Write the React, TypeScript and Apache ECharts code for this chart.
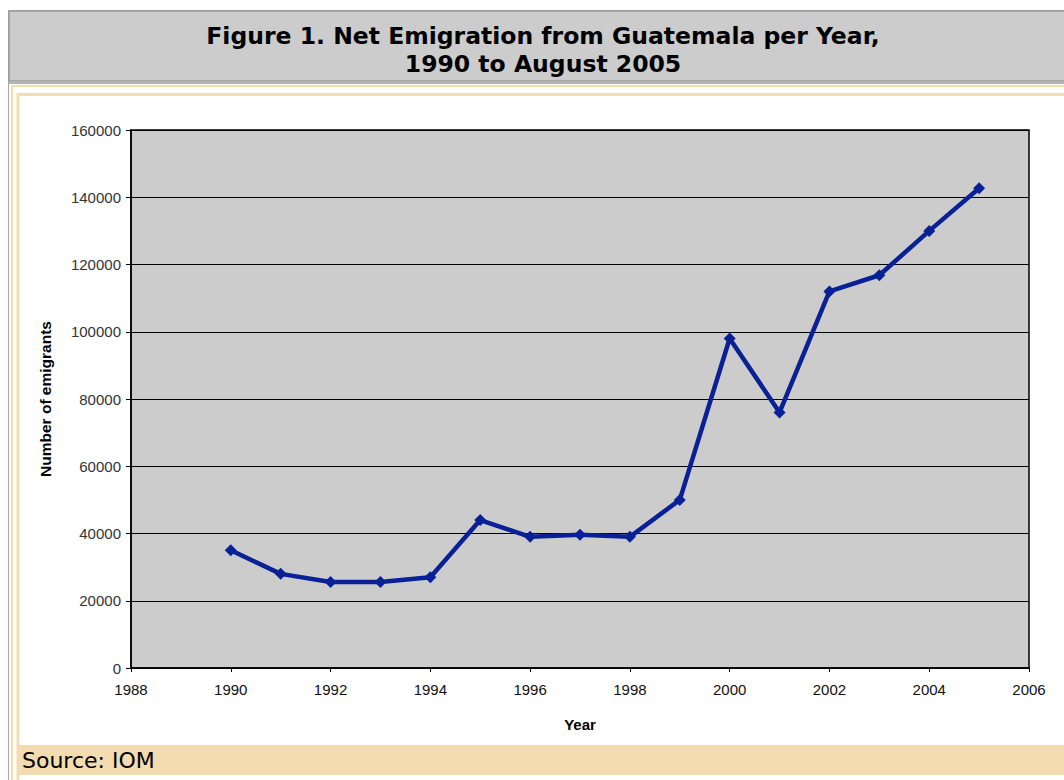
import React, { useEffect, useRef } from "react";
import * as echarts from "echarts";

const years = [1990, 1991, 1992, 1993, 1994, 1995, 1996, 1997, 1998, 1999, 2000, 2001, 2002, 2003, 2004, 2005];
const emigrants = [35000, 28000, 25600, 25600, 27000, 44000, 39000, 39600, 39000, 50000, 98000, 76000, 112000, 116800, 130000, 142700];
const titleLines = ["Figure 1. Net Emigration from Guatemala per Year,", "1990 to August 2005"];
const sourceText = "Source: IOM";
const xAxisName = "Year";
const yAxisName = "Number of emigrants";

export default function App() {
  const ref = useRef<HTMLDivElement>(null);
  useEffect(() => {
    if (!ref.current) return;
    const chart = echarts.init(ref.current, null, { renderer: "svg" });
    const beige = "#f3dcb0";
    chart.setOption({
      animation: false,
      backgroundColor: "#ffffff",
      graphic: [
        { type: "rect", z: -10, shape: { x: 8.5, y: 10.5, width: 1080, height: 780 }, style: { fill: "#ffffff", stroke: "#a8a8a8", lineWidth: 1 } },
        { type: "rect", z: -9, shape: { x: 9, y: 11, width: 1080, height: 70 }, style: { fill: "#cccccc", stroke: "#9a9a9a", lineWidth: 1.5 } },
        { type: "line", z: -9, shape: { x1: 9, y1: 83, x2: 1064, y2: 83 }, style: { stroke: "#9a9a9a", lineWidth: 1.5 } },
        { type: "rect", z: -8, shape: { x: 12, y: 86, width: 1080, height: 700 }, style: { fill: "none", stroke: beige, lineWidth: 2 } },
        { type: "rect", z: -8, shape: { x: 18, y: 94.5, width: 1080, height: 700 }, style: { fill: "none", stroke: beige, lineWidth: 3 } },
        { type: "rect", z: -7, shape: { x: 18, y: 745, width: 1046, height: 30 }, style: { fill: beige } },
        {
          type: "text", z: 5, x: 22, y: 760,
          style: { text: sourceText, font: "22px 'DejaVu Sans'", fill: "#000000", verticalAlign: "middle", align: "left" },
        },
        {
          type: "text", z: 5, x: 543, y: 36,
          style: { text: titleLines[0], font: "bold 23.5px 'DejaVu Sans'", fill: "#000000", verticalAlign: "middle", align: "center" },
        },
        {
          type: "text", z: 5, x: 543, y: 64,
          style: { text: titleLines[1], font: "bold 23.5px 'DejaVu Sans'", fill: "#000000", verticalAlign: "middle", align: "center" },
        },
      ],
      grid: {
        left: 131, top: 130, right: 35, bottom: 112,
        show: true, backgroundColor: "#cccccc", borderColor: "#000000", borderWidth: 1.5,
      },
      xAxis: {
        type: "value", min: 1988, max: 2006, interval: 2,
        name: xAxisName, nameLocation: "middle", nameGap: 49,
        nameTextStyle: { fontFamily: "Liberation Sans", fontWeight: "bold", fontSize: 15, color: "#000" },
        axisLine: { show: true, lineStyle: { color: "#000", width: 1.5 } },
        axisTick: { show: true, inside: false, length: 4, lineStyle: { color: "#000" } },
        axisLabel: { fontFamily: "Liberation Sans", fontSize: 15, color: "#111", margin: 14, formatter: (v: number) => String(v) },
        splitLine: { show: false },
      },
      yAxis: {
        type: "value", min: 0, max: 160000, interval: 20000,
        name: yAxisName, nameLocation: "middle", nameGap: 78, nameRotate: 90,
        nameTextStyle: { fontFamily: "Liberation Sans", fontWeight: "bold", fontSize: 15.5, color: "#000" },
        axisLine: { show: true, lineStyle: { color: "#000", width: 1.5 } },
        axisTick: { show: true, inside: false, length: 5, lineStyle: { color: "#000" } },
        axisLabel: { fontFamily: "Liberation Sans", fontSize: 15, color: "#333", margin: 10, formatter: (v: number) => String(v) },
        splitLine: { show: true, lineStyle: { color: "#000", width: 1.2 } },
      },
      series: [
        {
          type: "line",
          data: years.map((y, i) => [y, emigrants[i]]),
          symbol: "diamond", symbolSize: 12,
          lineStyle: { color: "#0a2096", width: 4.5 },
          itemStyle: { color: "#0a2096" },
        },
      ],
    });
    return () => chart.dispose();
  }, []);
  return <div ref={ref} style={{ position: "absolute", left: 0, top: 0, width: 1064, height: 780 }} />;
}
